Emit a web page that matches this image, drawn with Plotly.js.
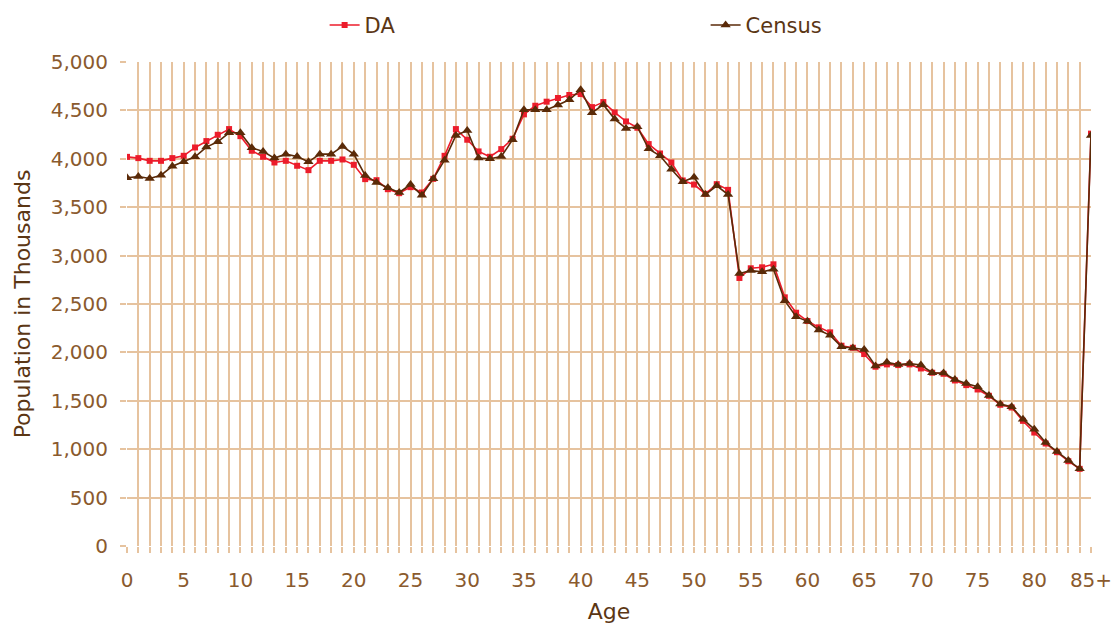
<!DOCTYPE html>
<html>
<head>
<meta charset="utf-8">
<script src="https://cdn.plot.ly/plotly-3.0.1.min.js"></script>
<style>html,body{margin:0;padding:0;background:#fff;}#chart{width:1112px;height:625px;}</style>
</head>
<body>
<div id="chart"></div>
<script>
const ages = Array.from({length: 86}, (_, i) => i);
const majorTickVals = [0, 5, 10, 15, 20, 25, 30, 35, 40, 45, 50, 55, 60, 65, 70, 75, 80, 85];
const majorTickText = ["0", "5", "10", "15", "20", "25", "30", "35", "40", "45", "50", "55", "60", "65", "70", "75", "80", "85+"];

const daValues = [
  4020, 4007, 3979, 3979, 4007, 4031, 4117, 4183, 4248, 4307,
  4234, 4083, 4021, 3962, 3979, 3928, 3883, 3979, 3979, 3993,
  3938, 3790, 3779, 3686, 3645, 3707, 3652, 3793, 4031, 4307,
  4197, 4076, 4021, 4100, 4207, 4459, 4548, 4590, 4628, 4659,
  4669, 4534, 4586, 4479, 4386, 4321, 4152, 4055, 3962, 3776,
  3734, 3638, 3738, 3679, 2769, 2869, 2879, 2910, 2569, 2410,
  2324, 2259, 2207, 2069, 2048, 1983, 1852, 1876, 1869, 1876,
  1834, 1790, 1779, 1710, 1662, 1617, 1552, 1459, 1431, 1293,
  1172, 1059, 969, 876, 797, 4260
];
const censusValues = [
  3803, 3817, 3797, 3831, 3924, 3969, 4021, 4121, 4176, 4269,
  4269, 4114, 4076, 4007, 4048, 4024, 3969, 4048, 4048, 4128,
  4048, 3828, 3755, 3700, 3652, 3734, 3624, 3793, 3986, 4241,
  4293, 4007, 4000, 4024, 4197, 4507, 4507, 4507, 4555, 4610,
  4714, 4476, 4559, 4410, 4314, 4331, 4103, 4031, 3893, 3762,
  3810, 3631, 3721, 3631, 2814, 2845, 2832, 2859, 2534, 2369,
  2321, 2231, 2176, 2059, 2045, 2031, 1859, 1897, 1874, 1885,
  1869, 1790, 1786, 1721, 1679, 1645, 1555, 1466, 1438, 1310,
  1207, 1069, 976, 883, 797, 4240
];
const seriesNames = ["DA", "Census"];
const yTickVals = [0, 500, 1000, 1500, 2000, 2500, 3000, 3500, 4000, 4500, 5000];
const yTickText = ["0", "500", "1,000", "1,500", "2,000", "2,500", "3,000", "3,500", "4,000", "4,500", "5,000"];

const traces = [
  {
    x: ages, y: daValues, name: seriesNames[0], type: "scatter", mode: "lines+markers",
    line: {color: "#ec1c2b", width: 1.6},
    marker: {symbol: "square", size: 6, color: "#ec1c2b"}
  },
  {
    x: ages, y: censusValues, name: seriesNames[1], type: "scatter", mode: "lines+markers",
    line: {color: "#5a2a08", width: 1.6},
    marker: {symbol: "triangle-up", size: 9, color: "#5a2a08"}
  }
];

const gridCol = "#e6c39f";
const layout = {
  width: 1112, height: 625,
  margin: {l: 127, r: 21, t: 62, b: 79, autoexpand: false},
  paper_bgcolor: "#ffffff", plot_bgcolor: "#ffffff",
  font: {family: "DejaVu Sans, sans-serif", color: "#8a5a2e"},
  showlegend: true,
  legend: {
    orientation: "h", x: 0.205, xanchor: "left", y: 1.118, yanchor: "top",
    yref: "paper", entrywidth: 336, entrywidthmode: "pixels",
    font: {size: 21, color: "#5b3614", family: "DejaVu Sans, sans-serif"},
    bgcolor: "rgba(0,0,0,0)"
  },
  xaxis: {
    range: [0, 85], tickmode: "array", tickvals: majorTickVals, ticktext: majorTickText,
    showgrid: true, gridcolor: gridCol, gridwidth: 2,
    ticks: "outside", ticklen: 6, tickcolor: gridCol, tickwidth: 2,
    minor: {dtick: 1, tick0: 0, showgrid: true, gridcolor: gridCol, gridwidth: 2,
            ticks: "outside", ticklen: 6, tickcolor: gridCol, tickwidth: 2},
    ticklabelstandoff: 10, ticklabeloverflow: "allow",
    tickfont: {size: 20, color: "#8a5a2e"},
    zeroline: false, showline: false, fixedrange: true,
    title: {text: "Age", font: {size: 22, color: "#5b3614"}, standoff: 12}
  },
  yaxis: {
    range: [0, 5000], tickmode: "array", tickvals: yTickVals, ticktext: yTickText,
    showgrid: true, gridcolor: gridCol, gridwidth: 2,
    ticks: "outside", ticklen: 6, tickcolor: gridCol, tickwidth: 2,
    ticklabelstandoff: 8,
    tickfont: {size: 20, color: "#8a5a2e"},
    zeroline: false, showline: false, fixedrange: true,
    title: {text: "Population in Thousands", font: {size: 22, color: "#5b3614"}, standoff: 14}
  }
};

Plotly.newPlot("chart", traces, layout, {displayModeBar: false, staticPlot: true});
</script>
</body>
</html>
